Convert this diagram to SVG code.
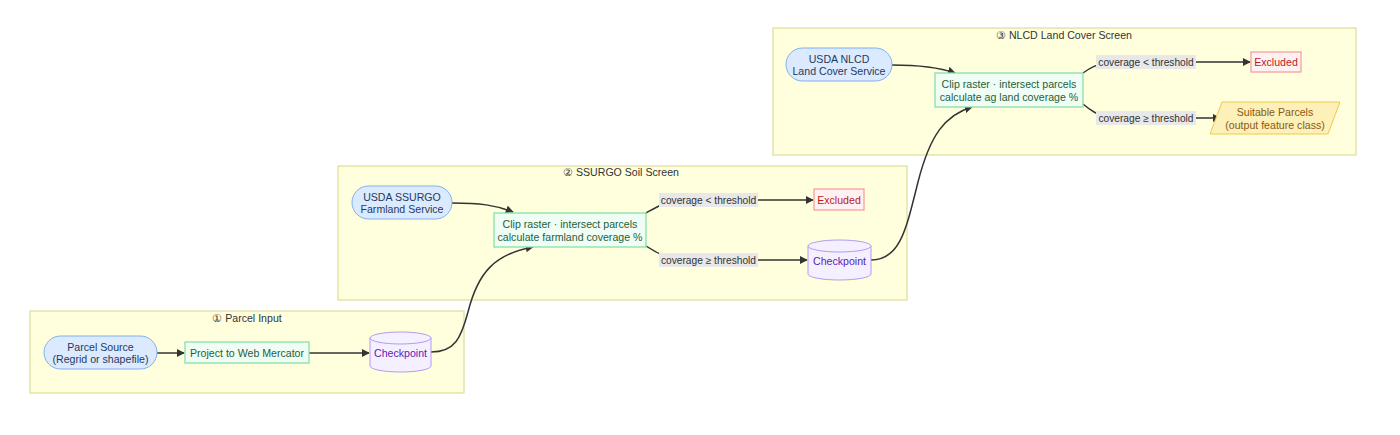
<svg xmlns="http://www.w3.org/2000/svg" width="1400" height="435" viewBox="0 0 1400 435">
<defs>
<marker id="arr" viewBox="0 0 10 10" refX="9" refY="5" markerWidth="8" markerHeight="8" markerUnits="userSpaceOnUse" orient="auto"><path d="M0,0 L10,5 L0,10 z" fill="#333"/></marker>
<style>
text{font-family:"Liberation Sans",Arial,sans-serif;font-size:10.6px;text-anchor:middle;dominant-baseline:central}
.cl{fill:#ffffde;stroke:#d6d68a;stroke-width:1}
.ct{fill:#333}
.src{fill:#dbeafe;stroke:#7fb0f0;stroke-width:1}
.srct{fill:#1e3a5f}
.proc{fill:#f0fdf4;stroke:#86e0a8;stroke-width:1.3}
.proct{fill:#1f5f3a}
.cyl{fill:#f5f0ff;stroke:#b49af0;stroke-width:1}
.cylt{fill:#5b21b6}
.exc{fill:#fff1f2;stroke:#f49a9a;stroke-width:1.2}
.exct{fill:#b91c1c}
.out{fill:#fdf0b8;stroke:#efc94c;stroke-width:1}
.outt{fill:#8a5a10}
.e{fill:none;stroke:#333;stroke-width:1.5}
.lb{fill:#e8e8e8}
.lbt{fill:#333;font-size:10.2px}
</style>
</defs>
<g id="cluster1"><rect class="cl" x="30" y="311" width="434" height="82"/><text class="ct" x="247" y="318">① Parcel Input</text></g>
<g id="cluster2"><rect class="cl" x="338" y="166" width="569" height="134"/><text class="ct" x="621" y="172">② SSURGO Soil Screen</text></g>
<g id="cluster3"><rect class="cl" x="773" y="28" width="583" height="127"/><text class="ct" x="1064" y="35">③ NLCD Land Cover Screen</text></g>

<g id="connectors">
<path class="e" d="M157,353 L184,353" marker-end="url(#arr)"/>
<path class="e" d="M309,353 L369,353" marker-end="url(#arr)"/>
<path class="e" d="M431,352 C455,352 461,338 468,312 C478,272 495,254 533,247" marker-end="url(#arr)"/>
<path class="e" d="M452,203 C480,203 495,205 513,212" marker-end="url(#arr)"/>
<path class="e" d="M646,213 C655,208 662,203 680,200 L813,200" marker-end="url(#arr)"/>
<path class="e" d="M646,246 C655,252 665,258 680,260 L807,260" marker-end="url(#arr)"/>
<path class="e" d="M871,260 C900,260 906,230 918,182 C930,135 945,115 972,107" marker-end="url(#arr)"/>
<path class="e" d="M892,65 C920,65 938,67 955,73" marker-end="url(#arr)"/>
<path class="e" d="M1083,73 C1090,68 1096,64 1112,62 L1250,62" marker-end="url(#arr)"/>
<path class="e" d="M1083,104 C1090,110 1098,116 1112,118 L1220,118" marker-end="url(#arr)"/>
<rect class="lb" x="659" y="193" width="99" height="14"/><text class="lbt" x="708.5" y="200">coverage &lt; threshold</text>
<rect class="lb" x="659" y="253" width="99" height="14"/><text class="lbt" x="708.5" y="260">coverage ≥ threshold</text>
<rect class="lb" x="1096" y="55" width="100" height="14"/><text class="lbt" x="1146" y="62">coverage &lt; threshold</text>
<rect class="lb" x="1096" y="111" width="100" height="14"/><text class="lbt" x="1146" y="118">coverage ≥ threshold</text>
</g>

<g id="parcelSource"><rect class="src" x="44" y="336" width="113" height="33" rx="16.5"/><text class="srct" x="100.5" y="347">Parcel Source</text><text class="srct" x="100.5" y="359">(Regrid or shapefile)</text></g>
<g id="project"><rect class="proc" x="185" y="342" width="124" height="21"/><text class="proct" x="247" y="353">Project to Web Mercator</text></g>
<g id="checkpoint1"><path class="cyl" d="M370,338 A30.5,6 0 0 1 431,338 L431,366 A30.5,6 0 0 1 370,366 Z"/><path class="cyl" d="M370,338 A30.5,6 0 0 0 431,338" fill="none"/><text class="cylt" x="400.5" y="353">Checkpoint</text></g>

<g id="ssurgo"><rect class="src" x="352" y="186" width="100" height="33" rx="16.5"/><text class="srct" x="402" y="197">USDA SSURGO</text><text class="srct" x="402" y="209">Farmland Service</text></g>
<g id="clip2"><rect class="proc" x="494" y="213" width="152" height="34"/><text class="proct" x="570" y="224">Clip raster · intersect parcels</text><text class="proct" x="570" y="237">calculate farmland coverage %</text></g>
<g id="excluded2"><rect class="exc" x="814" y="189" width="50" height="21"/><text class="exct" x="839" y="200">Excluded</text></g>
<g id="checkpoint2"><path class="cyl" d="M808,246 A31.5,6 0 0 1 871,246 L871,274 A31.5,6 0 0 1 808,274 Z"/><path class="cyl" d="M808,246 A31.5,6 0 0 0 871,246" fill="none"/><text class="cylt" x="839.5" y="261">Checkpoint</text></g>

<g id="nlcd"><rect class="src" x="786" y="48" width="106" height="33" rx="16.5"/><text class="srct" x="839" y="59">USDA NLCD</text><text class="srct" x="839" y="71">Land Cover Service</text></g>
<g id="clip3"><rect class="proc" x="935" y="73" width="148" height="34"/><text class="proct" x="1009" y="84">Clip raster · intersect parcels</text><text class="proct" x="1009" y="97">calculate ag land coverage %</text></g>
<g id="excluded3"><rect class="exc" x="1251" y="52" width="50" height="20"/><text class="exct" x="1276" y="62">Excluded</text></g>
<g id="suitable"><polygon class="out" points="1222,102 1340,102 1328,134 1210,134"/><text class="outt" x="1275" y="112">Suitable Parcels</text><text class="outt" x="1275" y="125">(output feature class)</text></g>
</svg>
